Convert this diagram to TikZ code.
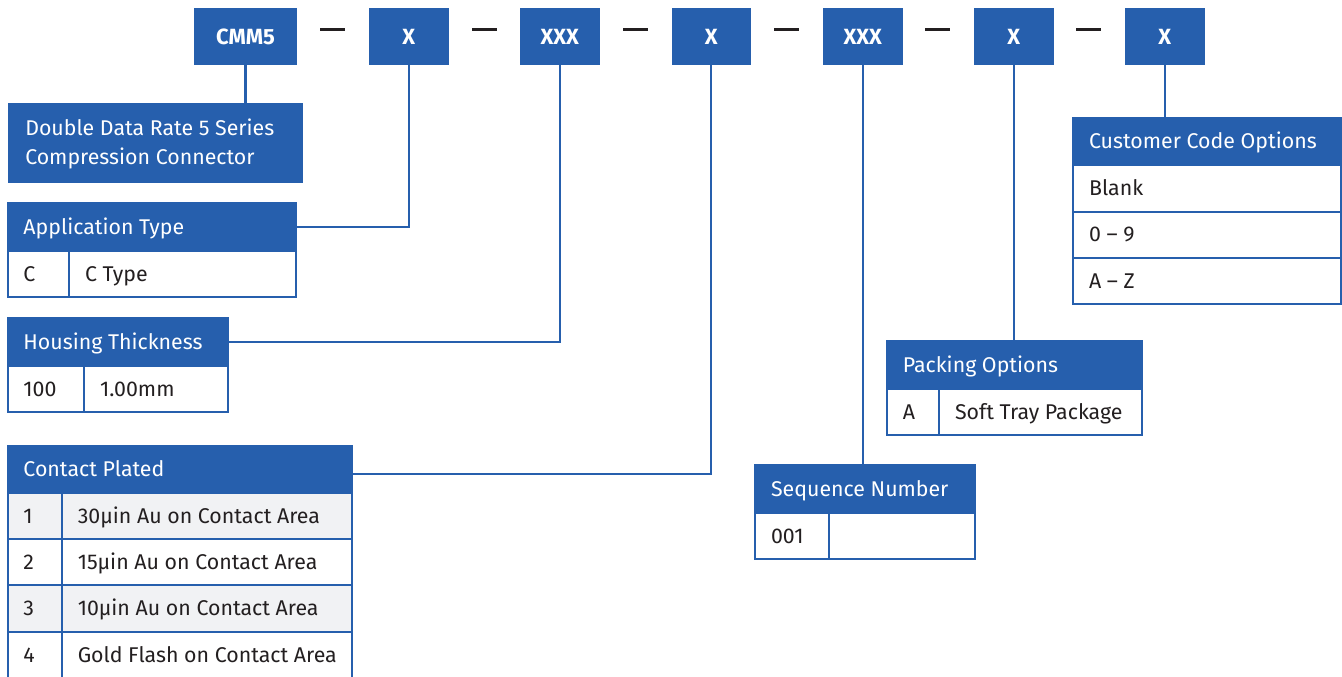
\documentclass[tikz,border=0pt]{standalone}
\usepackage{fontspec}
\setmainfont{Fira Sans}
\usetikzlibrary{calc}
\definecolor{mblue}{RGB}{38,95,173}
\definecolor{mdark}{RGB}{35,31,32}
\definecolor{mgray}{RGB}{241,242,244}
\newcommand{\mkcell}[7]{%
  \node[#2, anchor=north west, minimum width={(#5-#3)*0.75pt}, minimum height={(#6-#4)*0.75pt}] (#1) at (#3,#4) {};
  \node[#2txt, anchor=base west] (#1t) at ($(#1.west)+(16.5,7.3)$) {#7};
}
\tikzset{
  fnt/.style={font=\fontsize{16}{19}\selectfont},
  hdr/.style={fill=mblue, draw=mblue, line width=1.5pt, inner sep=0pt},
  hdrtxt/.style={fnt, text=white, inner sep=0pt},
  cellw/.style={fill=white, draw=mblue, line width=1.5pt, inner sep=0pt},
  cellwtxt/.style={fnt, text=mdark, inner sep=0pt},
  cellg/.style={fill=mgray, draw=mblue, line width=1.5pt, inner sep=0pt},
  cellgtxt/.style={fnt, text=mdark, inner sep=0pt},
  topbox/.style={fill=mblue, draw=mblue, line width=0.8pt, inner sep=0pt, anchor=north west,
     minimum height={56*0.75pt}, text=white, font=\fontsize{16.5}{19}\selectfont\bfseries},
  dashnode/.style={fill=mdark, inner sep=0pt, minimum width={25*0.75pt}, minimum height={2.2*0.75pt}},
  conn/.style={draw=mblue, line width=1.7pt},
}
\begin{document}
\begin{tikzpicture}[x=0.75pt,y=-0.75pt]
\useasboundingbox (0,0) rectangle (1342,677);
% top code boxes
\node[topbox, minimum width={102*0.75pt}] (b1) at (194,8) {CMM5};
\node[topbox, minimum width={78.5*0.75pt}] (b2) at (369,8) {X};
\node[topbox, minimum width={78.5*0.75pt}] (b3) at (520,8) {XXX};
\node[topbox, minimum width={78.5*0.75pt}] (b4) at (671.5,8) {X};
\node[topbox, minimum width={78.5*0.75pt}] (b5) at (823,8) {XXX};
\node[topbox, minimum width={78.5*0.75pt}] (b6) at (974,8) {X};
\node[topbox, minimum width={78.5*0.75pt}] (b7) at (1125,8) {X};
\node[dashnode] (d1) at (332.5,29.5) {};
\node[dashnode] (d2) at (484,29.5) {};
\node[dashnode] (d3) at (635,29.5) {};
\node[dashnode] (d4) at (786.5,29.5) {};
\node[dashnode] (d5) at (937.5,29.5) {};
\node[dashnode] (d6) at (1088.5,29.5) {};
% DDR box
\node[hdr, anchor=north west, minimum width={292.7*0.75pt}, minimum height={77.4*0.75pt}] (ddr) at (8,103.3) {};
\node[hdrtxt, anchor=base west] (ddr1) at (25,135.7) {Double Data Rate 5 Series};
\node[hdrtxt, anchor=base west] (ddr2) at (25,164.3) {Compression Connector};
% Application type
\mkcell{apph}{hdr}{6.7}{201.7}{295}{250}{Application Type}
\mkcell{appa}{cellw}{6.7}{250}{68.3}{296}{C}
\mkcell{appb}{cellw}{68.3}{250}{295}{296}{C Type}
% Housing thickness
\mkcell{hth}{hdr}{6.7}{317.3}{227.3}{365}{Housing Thickness}
\mkcell{hta}{cellw}{6.7}{365}{83.3}{411}{100}
\mkcell{htb}{cellw}{83.3}{365}{227.3}{411}{1.00mm}
% Contact plated
\mkcell{cph}{hdr}{6.7}{445}{350.7}{492.3}{Contact Plated}
\mkcell{cp1a}{cellg}{6.7}{492.3}{61}{537.7}{1}
\mkcell{cp1b}{cellg}{61}{492.3}{350.7}{537.7}{30µin Au on Contact Area}
\mkcell{cp2a}{cellw}{6.7}{537.7}{61}{584}{2}
\mkcell{cp2b}{cellw}{61}{537.7}{350.7}{584}{15µin Au on Contact Area}
\mkcell{cp3a}{cellg}{6.7}{584}{61}{630.5}{3}
\mkcell{cp3b}{cellg}{61}{584}{350.7}{630.5}{10µin Au on Contact Area}
\mkcell{cp4a}{cellw}{6.7}{630.5}{61}{677}{4}
\mkcell{cp4b}{cellw}{61}{630.5}{350.7}{677}{Gold Flash on Contact Area}
% Sequence number
\mkcell{sqh}{hdr}{754.3}{464}{974.3}{512.3}{Sequence Number}
\mkcell{sqa}{cellw}{754.3}{512.3}{828.3}{557.7}{001}
\mkcell{sqb}{cellw}{828.3}{512.3}{974.3}{557.7}{}
% Packing options
\mkcell{pkh}{hdr}{886}{340}{1141}{387.7}{Packing Options}
\mkcell{pka}{cellw}{886}{387.7}{938.3}{434}{A}
\mkcell{pkb}{cellw}{938.3}{387.7}{1141}{434}{Soft Tray Package}
% Customer code
\mkcell{cch}{hdr}{1072.3}{117.3}{1340}{164}{Customer Code Options}
\mkcell{cc1}{cellw}{1072.3}{164}{1340}{210.7}{Blank}
\mkcell{cc2}{cellw}{1072.3}{210.7}{1340}{256.7}{0 – 9}
\mkcell{cc3}{cellw}{1072.3}{256.7}{1340}{303}{A – Z}
% connectors
\draw[conn] (b1.south) -- (b1.south |- ddr.north);
\draw[conn] (b2.south) |- (apph.east);
\draw[conn] (b3.south) |- (hth.east);
\draw[conn] (b4.south) |- ($(cph.east)+(0,4.5)$);
\draw[conn] (b5.south) -- (b5.south |- sqh.north);
\draw[conn] (b6.south) -- (b6.south |- pkh.north);
\draw[conn] (b7.south) -- (b7.south |- cch.north);
\end{tikzpicture}
\end{document}
